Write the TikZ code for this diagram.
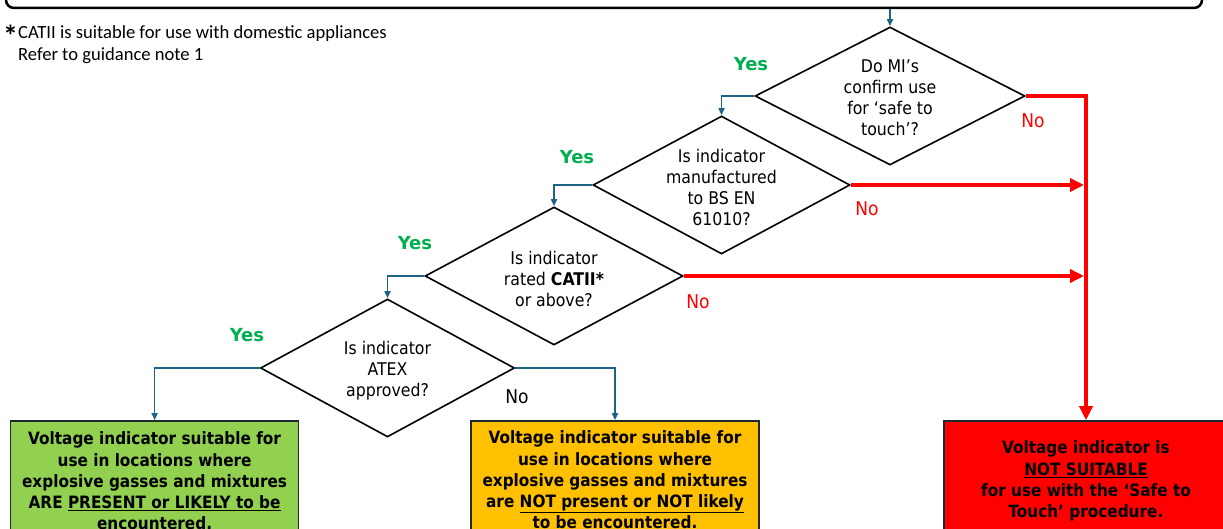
\documentclass[tikz,border=0pt]{standalone}
\usepackage{fontspec}
\usetikzlibrary{arrows.meta,shapes.geometric}
\newfontfamily\dfont{DejaVu Sans Condensed}
\newfontfamily\yfont{DejaVu Sans}
\newfontfamily\ffont{Carlito}
\definecolor{lnblue}{RGB}{31,100,135}
\definecolor{yesgreen}{RGB}{0,176,80}
\definecolor{gfill}{RGB}{146,208,80}
\definecolor{ofill}{RGB}{255,192,0}
\definecolor{rfill}{RGB}{255,0,0}
\definecolor{bordr}{RGB}{30,40,50}
\tikzset{
  decision/.style={diamond, draw=black, line width=1.6pt, inner sep=0pt,
    minimum width=#1, minimum height=138pt},
  dtext/.style={align=center, inner sep=0pt, font=\dfont\fontsize{17.5}{21}\selectfont},
  outbox/.style={rectangle, draw=bordr, line width=1.6pt, fill=#1, align=center,
    minimum width=288pt, minimum height=120pt, inner sep=0pt,
    font=\dfont\bfseries\fontsize{17}{21.2}\selectfont},
  bline/.style={draw=lnblue, line width=1.6pt, -{Triangle[length=7pt,width=6pt]}},
  rline/.style={draw=rfill, line width=4pt, -{Triangle[length=14pt,width=13pt]}},
  yeslab/.style={text=yesgreen, font=\yfont\bfseries\fontsize{18}{21}\selectfont, inner sep=0pt},
  nolab/.style={font=\dfont\fontsize{19}{22}\selectfont, inner sep=0pt},
  topbox/.style={draw=black, line width=2.5pt, rounded corners=8pt, minimum width=1196pt, minimum height=40pt},
  foot/.style={anchor=north west, inner sep=0pt, align=left, font=\ffont\fontsize{18.6}{22}\selectfont}
}
\begin{document}
\begin{tikzpicture}[x=1pt,y=-1pt]
\useasboundingbox (0,0) rectangle (1223,529);
\clip (0,0) rectangle (1223,529);
\fill[white] (0,0) rectangle (1223,529);

% cut-off heading box
\node[topbox] (top) at (604,-12) {};

% footnote
\node[inner sep=0pt, font=\ffont\bfseries\fontsize{30}{30}\selectfont] (star) at (10.5,36) {*};
\node[foot] (fn) at (18,25.5) {CATII is suitable for use with domestic appliances\\Refer to guidance note 1};

% decisions
\node[decision=270pt] (d1) at (890,96) {};
\node[dtext] (t1) at (890,98) {Do MI’s\\confirm use\\for ‘safe to\\touch’?};
\node[decision=257pt] (d2) at (721.5,185) {};
\node[dtext] (t2) at (721.5,187.5) {Is indicator\\manufactured\\to BS EN\\61010?};
\node[decision=258pt] (d3) at (554,276) {};
\node[dtext] (t3) at (554,278.5) {Is indicator\\rated \textbf{CATII*}\\or above?};
\node[decision=254pt] (d4) at (387.5,368) {};
\node[dtext] (t4) at (387.5,370.5) {Is indicator\\ATEX\\approved?};

% outcome boxes
\node[outbox=gfill] (gbox) at (154.6,481) {Voltage indicator suitable for\\use in locations where\\explosive gasses and mixtures\\ARE \underline{PRESENT or LIKELY to be}\\encountered.};
\node[outbox=ofill] (obox) at (615,481) {Voltage indicator suitable for\\use in locations where\\explosive gasses and mixtures\\are \underline{NOT present or NOT likely}\\\underline{to be encountered}.};
\node[outbox=rfill, minimum width=284pt] (rbox) at (1086,481) {Voltage indicator is\\\underline{NOT SUITABLE}\\for use with the ‘Safe to\\Touch’ procedure.};

% labels
\node[yeslab] (y1) at (751,64) {Yes};
\node[yeslab] (y2) at (577,157) {Yes};
\node[yeslab] (y3) at (415,243) {Yes};
\node[yeslab] (y4) at (247,335) {Yes};
\node[nolab, text=rfill] (n1) at (1033,121) {No};
\node[nolab, text=rfill] (n2) at (867,209) {No};
\node[nolab, text=rfill] (n3) at (698,302) {No};
\node[nolab] (n4) at (517,397) {No};

% connectors
\draw[bline] (top.south -| d1.north) -- (d1.north);
\draw[bline] (d1.west) -| (d2.north);
\draw[bline] (d2.west) -| (d3.north);
\draw[bline] (d3.west) -| (d4.north);
\draw[bline] (d4.west) -| (gbox.north);
\draw[bline] (d4.east) -| (obox.north);
\draw[rline] (d1.east) -| (rbox.north);
\draw[rline, shorten >=2pt] (d2.east) -- (d2.east -| rbox.north);
\draw[rline, shorten >=2pt] (d3.east) -- (d3.east -| rbox.north);
\end{tikzpicture}
\end{document}
